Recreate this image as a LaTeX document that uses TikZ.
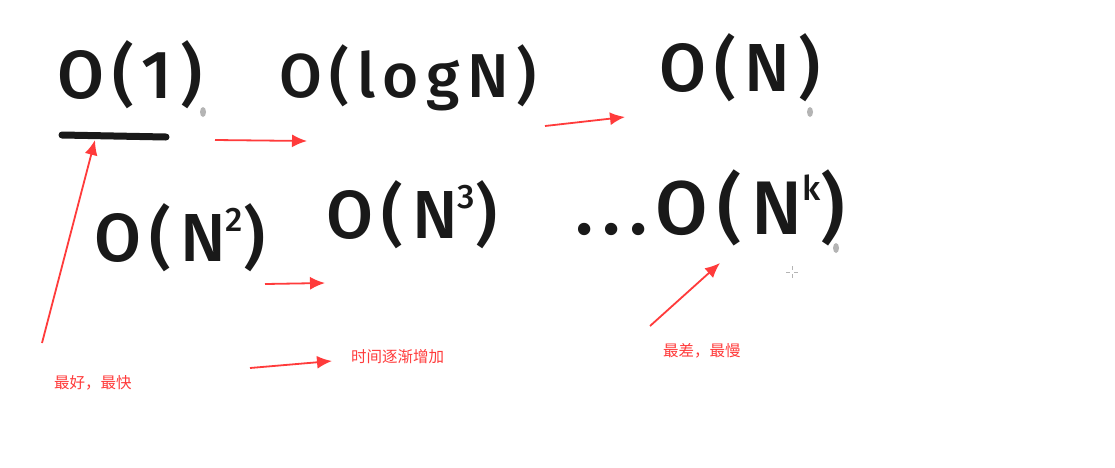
\documentclass[tikz,border=0pt]{standalone}
\usepackage{fontspec}
\setmainfont{Fira Sans}
\newfontfamily\cjk{Noto Sans CJK SC}
\newfontfamily\main[LetterSpace=12]{Fira Sans Medium}
\usetikzlibrary{arrows.meta}
\definecolor{rouge}{RGB}{255,59,59}
\definecolor{gris}{RGB}{180,180,180}
\definecolor{encre}{RGB}{25,25,25}
\newcommand{\expo}[1]{\raisebox{0.45em}{\fontsize{34}{34}\selectfont #1}}

\begin{document}
\begin{tikzpicture}[x=1pt, y=-1pt,
    main/.style={encre, font=\main\fontsize{68}{68}\selectfont, inner sep=0pt},
    fleche/.style={rouge, line width=1.8pt, -{Latex[length=15pt, width=13pt]}},
    legende/.style={rouge, font=\cjk\fontsize{15.5}{15.5}\selectfont, inner sep=0pt}]
\fill[white] (0,0) rectangle (1115,467);
\useasboundingbox (0,0) rectangle (1115,467);
% complexites
\node[main] (o1) at (130,75) {O(1)};
\node[main, font=\main\fontsize{62}{62}\selectfont] (olog) at (408,78) {O(logN)};
\node[main] (on) at (740,68) {O(N)};
\node[main] (on2) at (180,238) {O(N\expo{2})};
\node[main] (on3) at (412,215) {O(N\expo{3})};
\node[main, font=\main\fontsize{76}{76}\selectfont] (onk) at (710,208) {...O(N\expo{k})};
% soulignement
\coordinate (s1) at (62,135);
\coordinate (s2) at (166,137);
\draw[encre, line width=7pt, line cap=round] (s1) -- (s2);
% traces de stylo
\fill[gris] (203,112) ellipse (3 and 5);
\fill[gris] (810,112) ellipse (3 and 5);
\fill[gris] (836,248) ellipse (3 and 5);
% curseur
\draw[gris, thin] (786,272) -- (790,272) (794,272) -- (798,272)
  (792,266) -- (792,270) (792,274) -- (792,278);
% fleches
\coordinate (a0) at (42,343);
\coordinate (a1) at (95,140);
\coordinate (b0) at (215,140);
\coordinate (b1) at (307,141);
\coordinate (c0) at (545,126);
\coordinate (c1) at (625,117);
\coordinate (d0) at (265,284);
\coordinate (d1) at (325,283);
\coordinate (e0) at (250,368);
\coordinate (e1) at (332,361);
\coordinate (f0) at (650,326);
\coordinate (f1) at (720,263);
\draw[fleche] (a0) -- (a1);
\draw[fleche] (b0) -- (b1);
\draw[fleche] (c0) -- (c1);
\draw[fleche] (d0) -- (d1);
\draw[fleche] (e0) -- (e1);
\draw[fleche] (f0) -- (f1);
% legendes
\node[legende, anchor=west] (best) at (54,383) {最好，最快};
\node[legende, anchor=west] (temps) at (351,357) {时间逐渐增加};
\node[legende, anchor=west] (worst) at (663,351) {最差，最慢};
\end{tikzpicture}
\end{document}
